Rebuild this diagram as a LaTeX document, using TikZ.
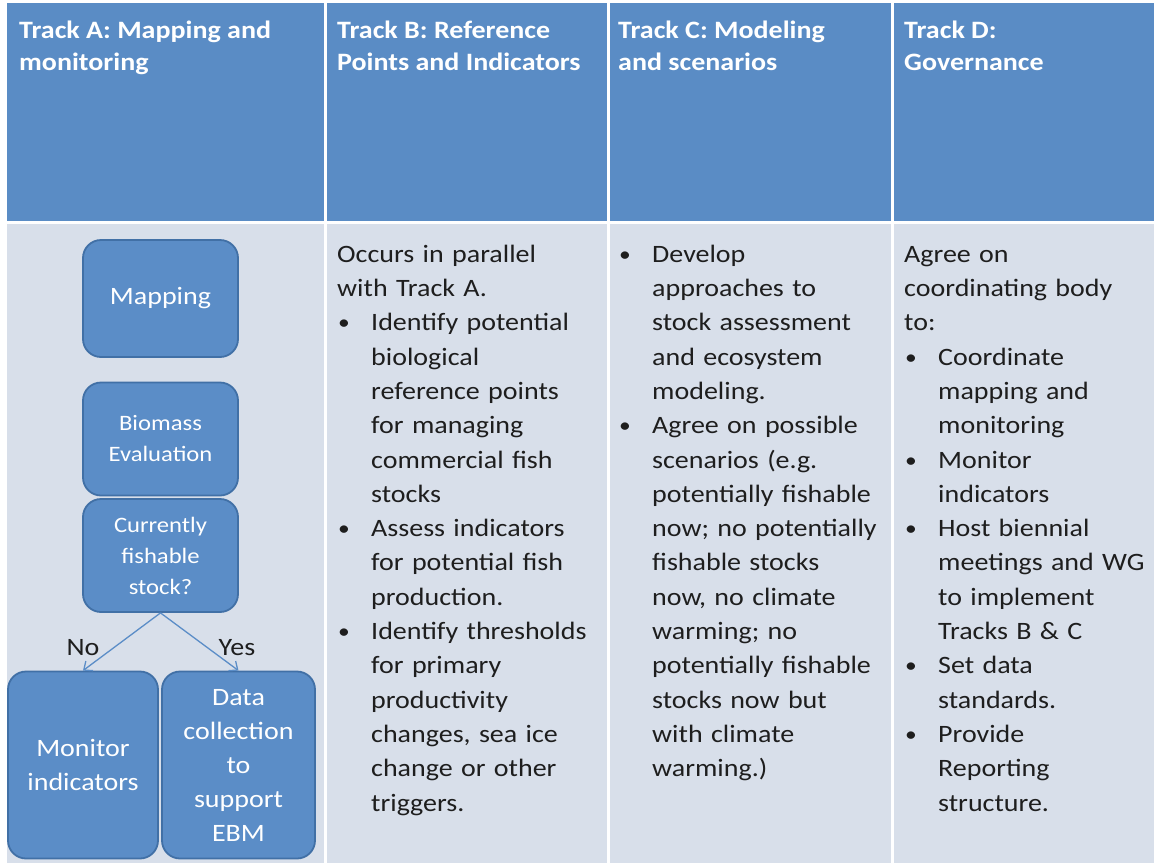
\documentclass[tikz,border=0pt]{standalone}
\usepackage{fontspec}
\setmainfont{Carlito}[FakeStretch=1.12]
\usetikzlibrary{arrows.meta}
\definecolor{hdrblue}{HTML}{5A8CC5}
\definecolor{cellgray}{HTML}{D8DFEA}
\definecolor{boxblue}{HTML}{5B8DC7}
\definecolor{boxedge}{HTML}{4170A6}
\definecolor{ink}{HTML}{1E1E1E}
\setlength{\parskip}{0pt}
\newcommand{\bulmark}{\hangindent=34pt\hangafter=1\noindent\makebox[34pt][l]{\hspace{1pt}\raisebox{1pt}{\fontsize{21}{21}\selectfont\textbullet}}}
\newcommand{\bul}{\par\bulmark}

\begin{document}
\begin{tikzpicture}[x=1pt, y=-1pt,
  hdr/.style={anchor=north west, inner sep=0pt, align=left, text=white, font=\fontsize{25}{32}\selectfont\bfseries},
  cell/.style={anchor=north west, inner sep=0pt, text width=272pt, align=left, text=ink, font=\fontsize{25}{34.3}\selectfont},
  flow/.style={draw=boxedge, line width=1.8pt, fill=boxblue, rounded corners=18pt, text=white, align=center, inner sep=0pt},
  big/.style={font=\fontsize{25}{34}\selectfont},
  small/.style={font=\fontsize{22}{31}\selectfont},
  lbl/.style={anchor=base, inner sep=0pt, text=ink, font=\fontsize{25}{34}\selectfont},
  arr/.style={draw=boxblue, line width=1.3pt, -{Straight Barb[length=7pt,width=12pt]}}]
\useasboundingbox (0,0) rectangle (1154,863);
\fill[white] (0,0) rectangle (1154,863);
% table cells
\fill[hdrblue] (7,3) rectangle (1154,221);
\fill[cellgray] (7,224) rectangle (1154,863);
\foreach \xx in {325,608,892}
  \draw[white, line width=3pt] (\xx,3) -- (\xx,863);
% header row
\node[hdr] (hdrA) at (19,16) {\strut Track A: Mapping and\\ monitoring};
\node[hdr] (hdrB) at (337,16) {\strut Track B: Reference\\ Points and Indicators};
\node[hdr] (hdrC) at (618,16) {\strut Track C: Modeling\\ and scenarios};
\node[hdr] (hdrD) at (904,16) {\strut Track D:\\ Governance};
% track A flow
\node[flow, big, minimum width=155pt, minimum height=117pt] (map) at (160.5,298.5) {Mapping};
\node[flow, small, minimum width=155pt, minimum height=113pt] (bio) at (160.5,439) {Biomass\\ Evaluation};
\node[flow, small, minimum width=155pt, minimum height=113pt] (fish) at (160.5,555.5) {Currently\\ fishable\\ stock?};
\node[flow, big, minimum width=150pt, minimum height=187pt] (mon) at (83,765) {Monitor\\ indicators};
\node[flow, big, minimum width=153pt, minimum height=187pt] (data) at (238.5,765) {Data\\ collection\\ to\\ support\\ EBM};
\draw[arr] (fish.south) -- (mon.north);
\draw[arr] (fish.south) -- (data.north);
\node[lbl] (no) at (83,655) {No};
\node[lbl] (yes) at (237,655) {Yes};
% track B
\node[cell] (txtB) at (337,238) {\noindent\strut Occurs in parallel\newline with Track A.
\bul Identify potential\newline biological\newline reference points\newline for managing\newline commercial fish\newline stocks
\bul Assess indicators\newline for potential fish\newline production.
\bul Identify thresholds\newline for primary\newline productivity\newline changes, sea ice\newline change or other\newline triggers.\par};
% track C
\node[cell] (txtC) at (618,238) {\bulmark\strut Develop\newline approaches to\newline stock assessment\newline and ecosystem\newline modeling.
\bul Agree on possible\newline scenarios (e.g.\newline potentially fishable\newline now; no potentially\newline fishable stocks\newline now, no climate\newline warming; no\newline potentially fishable\newline stocks now but\newline with climate\newline warming.)\par};
% track D
\node[cell] (txtD) at (904,238) {\noindent\strut Agree on\newline coordinating body\newline to:
\bul Coordinate\newline mapping and\newline monitoring
\bul Monitor\newline indicators
\bul Host biennial\newline meetings and WG\newline to implement\newline Tracks B \& C
\bul Set data\newline standards.
\bul Provide\newline Reporting\newline structure.\par};
\end{tikzpicture}
\end{document}
